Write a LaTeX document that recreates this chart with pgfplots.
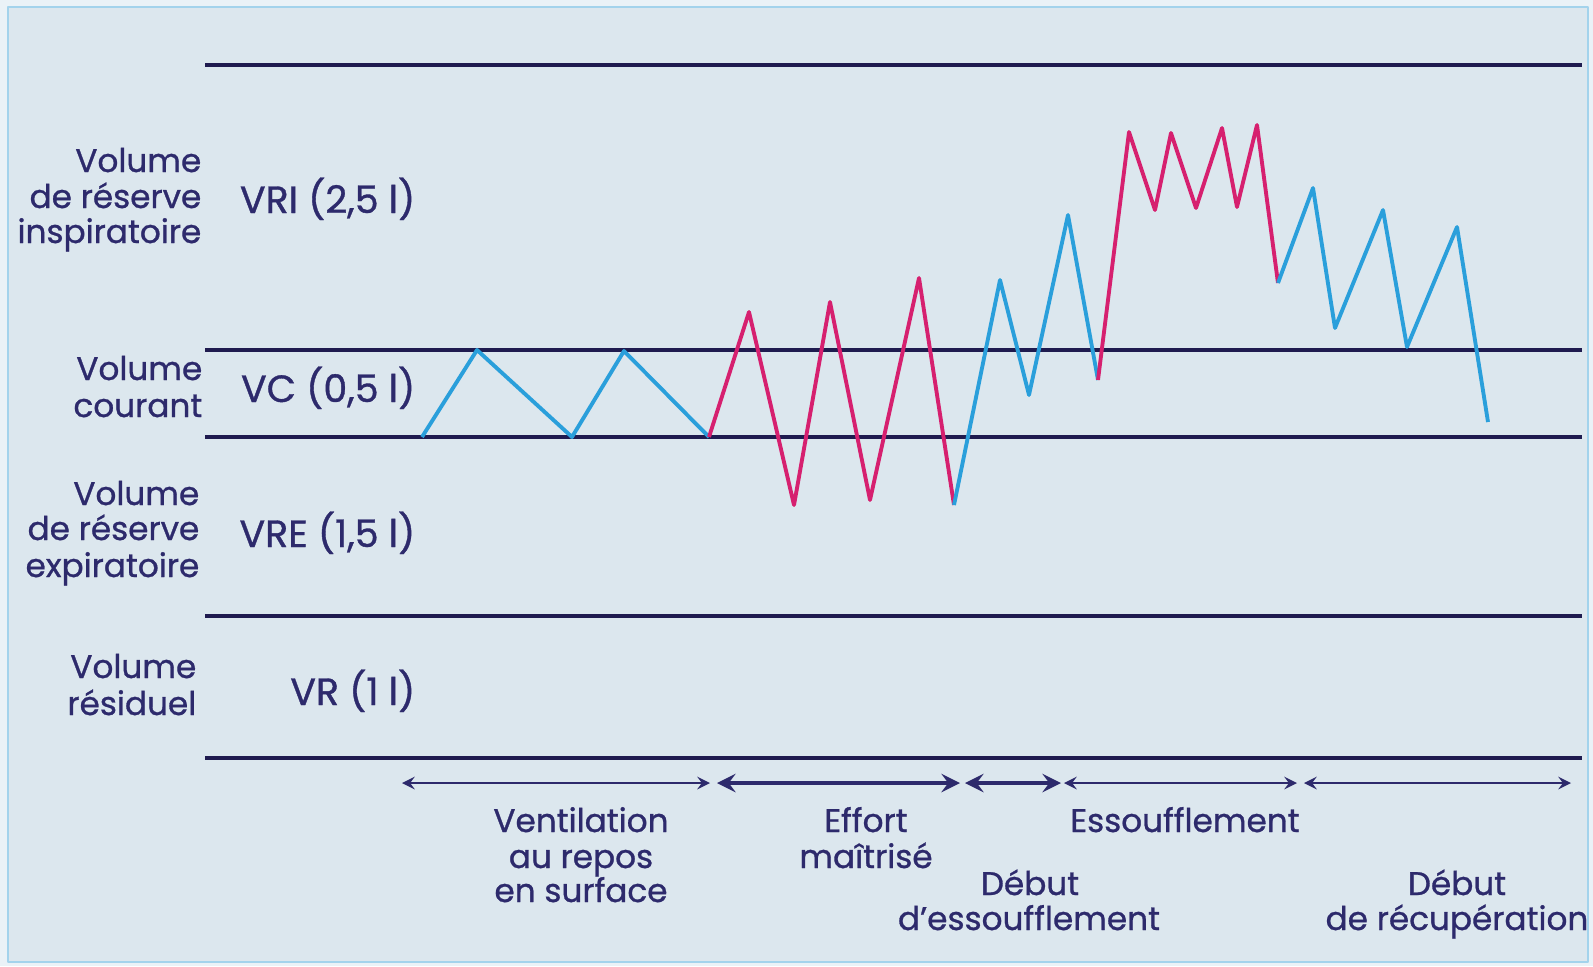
\documentclass[border=0pt]{standalone}
\usepackage{fontspec}
\setmainfont{Poppins}[FakeBold=0.9]
\usepackage{pgfplots}
\pgfplotsset{compat=1.18}

\definecolor{bg}{HTML}{DCE7EE}
\definecolor{frame}{HTML}{A3D3EC}
\definecolor{outside}{HTML}{EAF2F7}
\definecolor{navy}{HTML}{1F1B4F}
\definecolor{txt}{HTML}{2D2A6C}
\definecolor{cblue}{HTML}{2A9FDB}
\definecolor{cpink}{HTML}{D6206F}

\begin{document}
\begin{tikzpicture}[
    lbl/.style={font=\fontsize{9.3}{10}\selectfont, text=txt, inner sep=0pt},
    vol/.style={font=\fontsize{10.8}{11}\selectfont, text=txt, inner sep=0pt, anchor=base east},
]
\begin{axis}[
    scale only axis, width=15.93cm, height=9.66cm,
    xmin=0, xmax=1593, ymin=0, ymax=966, y dir=reverse,
    hide axis, clip=false,
    every axis plot/.append style={line join=round},
]
% panel
\addplot[draw=none, fill=outside] coordinates {(0,0) (1593,0) (1593,966) (0,966)} -- cycle;
\addplot[draw=frame, line width=0.6pt, fill=bg] coordinates {(8,7) (1588,7) (1588,962) (8,962)} -- cycle;

% limits between volumes
\addplot[navy, line width=1.3pt] coordinates {(205,65) (1582,65)};
\addplot[navy, line width=1.3pt] coordinates {(205,350) (1582,350)};
\addplot[navy, line width=1.3pt] coordinates {(205,437) (1582,437)};
\addplot[navy, line width=1.3pt] coordinates {(205,616) (1582,616)};
\addplot[navy, line width=1.3pt] coordinates {(205,758) (1582,758)};

% breathing trace
\addplot[cblue, line width=1.1pt] coordinates {(422,437) (477,350) (572,437) (624,351) (709,437)};
\addplot[cpink, line width=1.1pt] coordinates {(709,437) (749,312) (794,505) (830,302) (870,500) (919,278) (954,505)};
\addplot[cblue, line width=1.1pt] coordinates {(954,505) (1000,280) (1029,395) (1068,215) (1098,380)};
\addplot[cpink, line width=1.1pt] coordinates {(1098,380) (1129,132) (1155,210) (1171,133) (1196,208) (1222,128) (1237,207) (1257,125) (1278,283)};
\addplot[cblue, line width=1.1pt] coordinates {(1278,283) (1313,188) (1335,328) (1383,210) (1407,347) (1457,227) (1488,422)};

% phases
\addplot[txt, line width=0.6pt, <->, >=stealth] coordinates {(402,783) (710,783)};
\addplot[txt, line width=1.3pt, <->, >=stealth] coordinates {(717,783) (960,783)};
\addplot[txt, line width=1.3pt, <->, >=stealth] coordinates {(965,783) (1061,783)};
\addplot[txt, line width=0.6pt, <->, >=stealth] coordinates {(1064,783) (1297,783)};
\addplot[txt, line width=0.6pt, <->, >=stealth] coordinates {(1304,783) (1571,783)};

% left labels
\node[lbl, anchor=base east] at (axis cs:202,172) {Volume};
\node[lbl, anchor=base east] at (axis cs:202,208) {de réserve};
\node[lbl, anchor=base east] at (axis cs:202,243) {inspiratoire};
\node[lbl, anchor=base east] at (axis cs:203,380) {Volume};
\node[lbl, anchor=base east] at (axis cs:203,417) {courant};
\node[lbl, anchor=base east] at (axis cs:200,505) {Volume};
\node[lbl, anchor=base east] at (axis cs:200,540) {de réserve};
\node[lbl, anchor=base east] at (axis cs:200,577) {expiratoire};
\node[lbl, anchor=base east] at (axis cs:197,678) {Volume};
\node[lbl, anchor=base east] at (axis cs:197,715) {résiduel};

\node[vol] at (axis cs:416,213) {VRI (2,5 l)};
\node[vol] at (axis cs:416,402) {VC (0,5 l)};
\node[vol] at (axis cs:416,547) {VRE (1,5 l)};
\node[vol] at (axis cs:416,705) {VR (1 l)};

% phase labels
\node[lbl, anchor=base] at (axis cs:581,832) {Ventilation};
\node[lbl, anchor=base] at (axis cs:581,868) {au repos};
\node[lbl, anchor=base] at (axis cs:581,902) {en surface};
\node[lbl, anchor=base] at (axis cs:866,832) {Effort};
\node[lbl, anchor=base] at (axis cs:866,868) {maîtrisé};
\node[lbl, anchor=base] at (axis cs:1030,895) {Début};
\node[lbl, anchor=base] at (axis cs:1029,930) {d’essoufflement};
\node[lbl, anchor=base] at (axis cs:1185,832) {Essoufflement};
\node[lbl, anchor=base] at (axis cs:1457,895) {Début};
\node[lbl, anchor=base] at (axis cs:1457,930) {de récupération};
\end{axis}
\end{tikzpicture}
\end{document}
